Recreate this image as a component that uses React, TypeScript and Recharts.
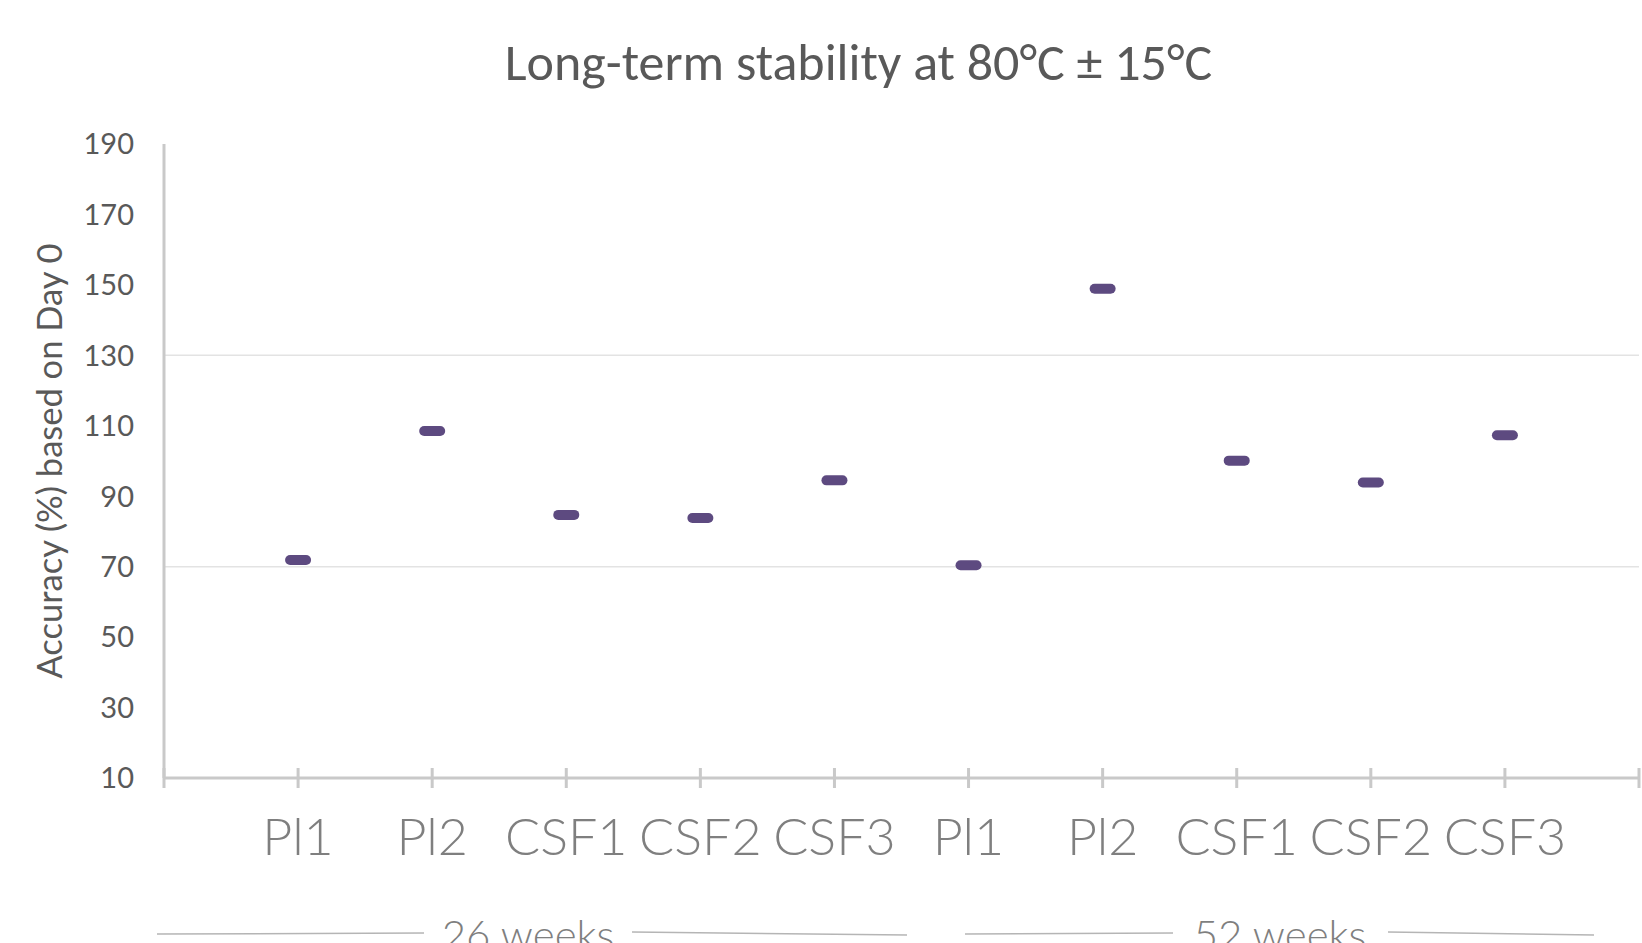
import { ScatterChart, Scatter, XAxis, YAxis, ReferenceLine } from "recharts";

const categories = ["Pl1", "Pl2", "CSF1", "CSF2", "CSF3", "Pl1", "Pl2", "CSF1", "CSF2", "CSF3"];
const accuracy = [71.9, 108.5, 84.7, 83.8, 94.5, 70.4, 148.9, 100.1, 93.9, 107.3];
const yTicks = [10, 30, 50, 70, 90, 110, 130, 150, 170, 190];
const limits = [70, 130];
const groups = [
  { label: "26 weeks", x: 528, lineA: [157, 424], lineB: [632, 907] },
  { label: "52 weeks", x: 1280, lineA: [965, 1173], lineB: [1388, 1594] },
];

const data = accuracy.map((v, i) => ({ x: i + 1, y: v, name: categories[i] }));
const xTicks = Array.from({ length: categories.length + 2 }, (_, i) => i);

const AXIS = "#c9c9c9";
const MARK = "#5d4a80";

function Dash(props: any) {
  const { cx, cy } = props;
  return <rect x={cx - 13} y={cy - 5} width={26} height={10} rx={5} fill={MARK} />;
}

function XTick(props: any) {
  const { x, y, payload } = props;
  const i = payload.value as number;
  const label = i >= 1 && i <= categories.length ? categories[i - 1] : "";
  return (
    <g>
      <line x1={x} x2={x} y1={y - 10} y2={y + 10} stroke={AXIS} strokeWidth={3} />
      <text x={x} y={y + 77} textAnchor="middle" fontSize={52} fill="#7f7f7f"
        fontFamily="Lato, sans-serif" fontWeight={300}>
        {label}
      </text>
    </g>
  );
}

export default function App() {
  return (
    <div style={{ position: "absolute", left: 0, top: 0, width: 1642, height: 943, background: "#fff", overflow: "hidden" }}>
      <div style={{ position: "absolute", left: 0, width: 1642, top: 30, textAlign: "center", paddingLeft: 75,
        boxSizing: "border-box", fontFamily: "Carlito, Lato, sans-serif", fontSize: 52, color: "#595959" }}>
        Long-term stability at 80°C ± 15°C
      </div>
      <ScatterChart width={1642} height={943} margin={{ top: 144, right: 3, bottom: 135, left: 0 }}>
        <XAxis type="number" dataKey="x" domain={[0, categories.length + 1]} ticks={xTicks}
          interval={0} tickLine={false} tickSize={0} tickMargin={0} tick={<XTick />}
          axisLine={{ stroke: AXIS, strokeWidth: 3 }} />
        <YAxis type="number" dataKey="y" domain={[10, 190]} ticks={yTicks} width={164}
          tickLine={false} tickSize={0} tickMargin={30} interval={0}
          axisLine={{ stroke: AXIS, strokeWidth: 3 }}
          tick={{ fontSize: 29, fill: "#595959", fontFamily: "Lato, sans-serif" }}
          label={{ value: "Accuracy (%) based on Day 0", angle: -90, position: "insideLeft", offset: 50,
            style: { textAnchor: "middle", fontSize: 34.5, fill: "#595959", fontFamily: "Lato, sans-serif" } }} />
        {limits.map((l) => (
          <ReferenceLine key={l} y={l} stroke="#e3e3e3" strokeWidth={1.5} />
        ))}
        <Scatter data={data} shape={<Dash />} isAnimationActive={false} />
      </ScatterChart>
      <svg style={{ position: "absolute", left: 0, top: 0 }} width={1642} height={943}>
        {groups.map((g) => (
          <g key={g.label}>
            <line x1={g.lineA[0]} x2={g.lineA[1]} y1={934} y2={933} stroke="#b5b5b5" strokeWidth={1.5} />
            <line x1={g.lineB[0]} x2={g.lineB[1]} y1={932} y2={935} stroke="#b5b5b5" strokeWidth={1.5} />
            <text x={g.x} y={950} textAnchor="middle" fontSize={42} fill="#7f7f7f" fontFamily="Lato, sans-serif" fontWeight={300}>
              {g.label}
            </text>
          </g>
        ))}
      </svg>
    </div>
  );
}
